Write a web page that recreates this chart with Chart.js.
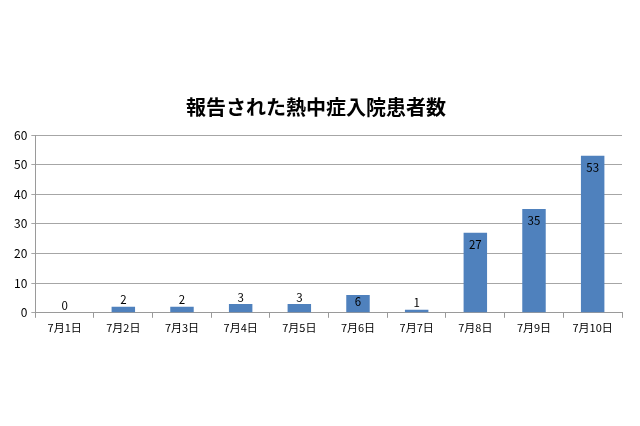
<!DOCTYPE html>
<html>
<head>
<meta charset="utf-8">
<script src="https://cdn.jsdelivr.net/npm/chart.js@4"></script>
<style>
  html, body { margin: 0; padding: 0; background: #fff; }
  #wrap { width: 640px; height: 426px; }
</style>
</head>
<body>
<div id="wrap"><canvas id="chart1"></canvas></div>
<script>
  "use strict";

  var days = ['7月1日', '7月2日', '7月3日', '7月4日', '7月5日', '7月6日', '7月7日', '7月8日', '7月9日', '7月10日'];
  var patients = [0, 2, 2, 3, 3, 6, 1, 27, 35, 53];
  var yTicks = [0, 10, 20, 30, 40, 50, 60];

  var labelFont = '"Noto Sans CJK JP", "Noto Sans", sans-serif';

  // numbers on the bars: above for short bars, inside the top for tall ones
  var barLabels = {
    id: 'barLabels',
    afterDatasetsDraw: function(chart) {
      var ctx = chart.ctx;
      var meta = chart.getDatasetMeta(0);
      ctx.save();
      ctx.font = '11.5px ' + labelFont;
      ctx.fillStyle = '#000';
      ctx.textAlign = 'center';
      meta.data.forEach(function(bar, i) {
        var v = patients[i];
        if (v >= 5) {
          var h = bar.base - bar.y;
          ctx.textBaseline = 'middle';
          ctx.fillText(String(v), bar.x, bar.y + Math.min(12, h * 0.37));
        } else {
          ctx.textBaseline = 'bottom';
          ctx.fillText(String(v), bar.x, bar.y - 1);
        }
      });
      ctx.restore();
    }
  };

  var ctx = document.getElementById('chart1').getContext('2d');

  var myChart = new Chart(ctx, {
    type: 'bar',
    data: {
      labels: days,
      datasets: [{
        label: '患者数',
        data: patients,
        backgroundColor: '#4f81bd',
        borderWidth: 0,
        barPercentage: 0.8,
        categoryPercentage: 0.5
      }]
    },
    options: {
      responsive: true,
      maintainAspectRatio: false,
      animation: false,
      layout: {
        padding: { top: 95, left: 10, right: 18, bottom: 89 }
      },
      plugins: {
        legend: { display: false },
        tooltip: { enabled: false },
        title: {
          display: true,
          text: '報告された熱中症入院患者数',
          color: '#000',
          font: { family: labelFont, size: 20, weight: 'bold' },
          padding: { top: 0, bottom: 16 }
        }
      },
      scales: {
        x: {
          offset: true,
          border: { color: '#9a9a9a', width: 1 },
          grid: {
            offset: true,
            drawOnChartArea: false,
            drawTicks: true,
            tickLength: 5,
            color: '#9a9a9a'
          },
          ticks: {
            color: '#000',
            font: { family: labelFont, size: 11 },
            padding: 3,
            maxRotation: 0
          }
        },
        y: {
          min: 0,
          max: 60,
          afterBuildTicks: function(axis) {
            axis.ticks = yTicks.map(function(v) { return { value: v }; });
          },
          border: { color: '#9a9a9a', width: 1 },
          grid: {
            color: '#a6a6a6',
            lineWidth: 1,
            drawTicks: true,
            tickLength: 4
          },
          ticks: {
            color: '#000',
            font: { family: labelFont, size: 12 },
            padding: 4
          }
        }
      }
    },
    plugins: [barLabels]
  });
</script>
</body>
</html>
